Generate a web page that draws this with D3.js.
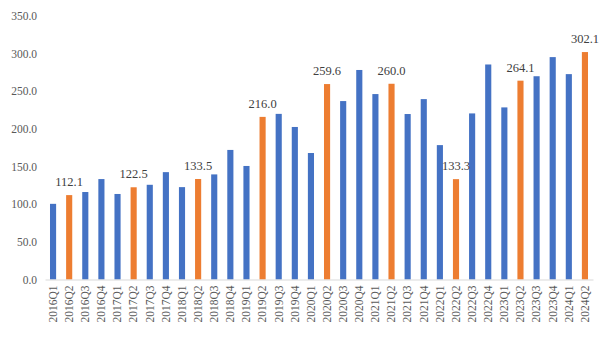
<!DOCTYPE html>
<html>
<head>
<meta charset="utf-8">
<script src="https://cdn.jsdelivr.net/npm/d3@7"></script>
<style>
  html, body { margin: 0; padding: 0; background: #ffffff; }
  svg { display: block; }
</style>
</head>
<body>
<svg id="chart" width="608" height="340"></svg>
<script>
// Quarterly series, 2016Q1 – 2024Q2
const quarters = [
  "2016Q1","2016Q2","2016Q3","2016Q4",
  "2017Q1","2017Q2","2017Q3","2017Q4",
  "2018Q1","2018Q2","2018Q3","2018Q4",
  "2019Q1","2019Q2","2019Q3","2019Q4",
  "2020Q1","2020Q2","2020Q3","2020Q4",
  "2021Q1","2021Q2","2021Q3","2021Q4",
  "2022Q1","2022Q2","2022Q3","2022Q4",
  "2023Q1","2023Q2","2023Q3","2023Q4",
  "2024Q1","2024Q2"
];
const values = [
  100.5, 112.1, 116.2, 133.4,
  113.6, 122.5, 125.8, 142.6,
  122.7, 133.5, 139.6, 172.1,
  150.8, 216.0, 220.0, 202.6,
  168.0, 259.6, 237.0, 278.3,
  246.3, 260.0, 219.8, 239.6,
  178.5, 133.3, 220.6, 285.6,
  228.6, 264.1, 270.0, 295.4,
  272.8, 302.1
];
const yTicks = [0, 50, 100, 150, 200, 250, 300, 350];

const blue = "#4472C4";
const orange = "#ED7D31";
const isQ2 = q => q.endsWith("Q2");

const svg = d3.select("#chart");
const margin = { left: 45, right: 15, top: 16, bottom: 60 };
const W = 608, H = 340;

const x = d3.scaleBand()
  .domain(quarters)
  .range([margin.left, W - margin.right])
  .paddingInner(0.62)
  .paddingOuter(0.31);

const y = d3.scaleLinear()
  .domain([0, 350])
  .range([H - margin.bottom - 0.5, margin.top]);

const font = "'Liberation Serif', 'Times New Roman', serif";

// Y axis labels (no axis line, no ticks)
const yAxis = svg.append("g")
  .attr("transform", `translate(${margin.left},0)`)
  .call(d3.axisLeft(y).tickValues(yTicks).tickFormat(d3.format(".1f")).tickSize(0).tickPadding(8));
yAxis.select(".domain").remove();
yAxis.selectAll("text")
  .attr("font-family", font)
  .attr("font-size", 11.5)
  .attr("fill", "#595959");

// Bars
svg.append("g").selectAll("rect")
  .data(quarters)
  .join("rect")
  .attr("x", d => x(d))
  .attr("width", x.bandwidth())
  .attr("y", (d, i) => y(values[i]))
  .attr("height", (d, i) => y(0) - y(values[i]))
  .attr("fill", d => isQ2(d) ? orange : blue);

// X axis
const xAxis = svg.append("g")
  .attr("transform", `translate(0,${y(0)})`)
  .call(d3.axisBottom(x).tickSize(0).tickPadding(0));
xAxis.select(".domain").attr("stroke", "#d9d9d9").attr("stroke-width", 1);
xAxis.selectAll("text")
  .attr("font-family", font)
  .attr("font-size", 11.5)
  .attr("fill", "#595959")
  .attr("transform", "rotate(-90)")
  .attr("text-anchor", "end")
  .attr("dy", "0.33em")
  .attr("x", -6)
  .attr("y", 0);

// Value labels on Q2 bars
svg.append("g").selectAll("text")
  .data(quarters.map((q, i) => ({ q, v: values[i] })).filter(d => isQ2(d.q)))
  .join("text")
  .attr("x", d => x(d.q) + x.bandwidth() / 2)
  .attr("y", d => y(d.v) - 9)
  .attr("text-anchor", "middle")
  .attr("font-family", font)
  .attr("font-size", 12.5)
  .attr("fill", "#404040")
  .text(d => d3.format(".1f")(d.v));
</script>
</body>
</html>
